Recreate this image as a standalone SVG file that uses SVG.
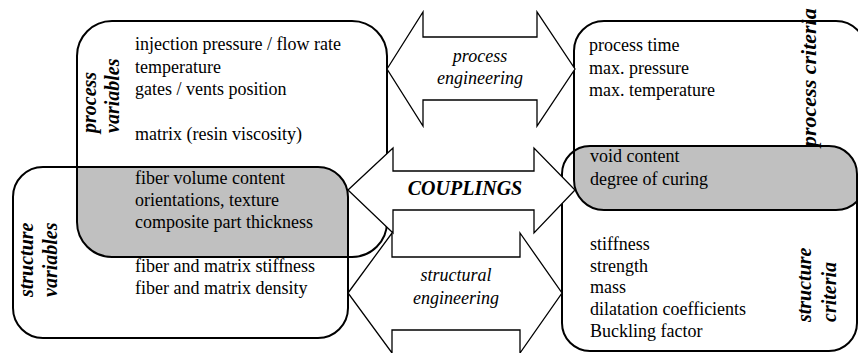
<svg xmlns="http://www.w3.org/2000/svg" width="858" height="353" viewBox="0 0 858 353">
<style>
.box{fill:none;stroke:#000;stroke-width:2}
.arr{fill:#fff;stroke:#000;stroke-width:1.3;stroke-linejoin:miter}
.t{font-family:"Liberation Serif","Times New Roman",serif;font-size:18px;fill:#000}
.lab{font-family:"Liberation Serif","Times New Roman",serif;font-size:20px;font-weight:bold;font-style:italic;fill:#000}
.it{font-family:"Liberation Serif","Times New Roman",serif;font-size:18px;font-style:italic;fill:#000;text-anchor:middle}
</style>
<defs>
<clipPath id="cpPV"><rect x="77" y="21" width="310" height="236" rx="35"/></clipPath>
<clipPath id="cpSC"><rect x="562" y="146" width="295" height="205" rx="28"/></clipPath>
</defs>
<rect width="858" height="353" fill="#fff"/>
<g id="overlaps">
<rect x="13" y="167" width="335" height="171" rx="30" fill="#c0c0c0" clip-path="url(#cpPV)"/>
<rect x="574" y="21" width="292" height="189" rx="30" fill="#c0c0c0" clip-path="url(#cpSC)"/>
</g>
<g id="process-variables">
<rect class="box" x="77" y="21" width="310" height="236" rx="35"/>
<text class="lab" transform="translate(96,133) rotate(-90)">process</text>
<text class="lab" transform="translate(119,133) rotate(-90)">variables</text>
<text class="t" x="135" y="50">injection pressure / flow rate</text>
<text class="t" x="135" y="73">temperature</text>
<text class="t" x="135" y="95">gates / vents position</text>
<text class="t" x="135" y="140">matrix (resin viscosity)</text>
</g>
<g id="structure-variables">
<rect class="box" x="13" y="167" width="335" height="171" rx="30"/>
<text class="lab" transform="translate(33,297) rotate(-90)">structure</text>
<text class="lab" transform="translate(57,297) rotate(-90)">variables</text>
<text class="t" x="135" y="184">fiber volume content</text>
<text class="t" x="135" y="206">orientations, texture</text>
<text class="t" x="135" y="228">composite part thickness</text>
<text class="t" x="135" y="272">fiber and matrix stiffness</text>
<text class="t" x="135" y="294">fiber and matrix density</text>
</g>
<g id="process-criteria">
<rect class="box" x="574" y="21" width="292" height="189" rx="30"/>
<text class="t" x="589" y="51">process time</text>
<text class="t" x="589" y="74">max. pressure</text>
<text class="t" x="589" y="96">max. temperature</text>
<text class="t" x="590" y="162">void content</text>
<text class="t" x="590" y="185">degree of curing</text>
</g>
<g id="structure-criteria">
<rect class="box" x="562" y="146" width="295" height="205" rx="28"/>
<text class="t" x="590" y="250">stiffness</text>
<text class="t" x="590" y="272">strength</text>
<text class="t" x="590" y="293">mass</text>
<text class="t" x="590" y="315">dilatation coefficients</text>
<text class="t" x="590" y="337">Buckling factor</text>
<text class="lab" transform="translate(811,322) rotate(-90)">structure</text>
<text class="lab" transform="translate(836,322) rotate(-90)">criteria</text>
</g>
<g id="connectors">
<g id="process-engineering">
<polygon class="arr" points="387,69 423,12 423,37 537,37 537,12 575,69 537,126 537,100 423,100 423,126"/>
<text class="it" x="480" y="62">process</text>
<text class="it" x="480" y="84">engineering</text>
</g>
<g id="couplings">
<polygon class="arr" points="348,190 393,148 393,171 534,171 534,148 575,190 534,233 534,210 393,210 393,233"/>
<text class="lab" x="465" y="195" text-anchor="middle">COUPLINGS</text>
</g>
<g id="structural-engineering">
<polygon class="arr" points="348,293 392,233 392,257 520,257 520,233 562,293 520,353 520,330 392,330 392,353"/>
<text class="it" x="456" y="281">structural</text>
<text class="it" x="456" y="304">engineering</text>
</g>
</g>
<text class="lab" style="font-size:22px" transform="translate(816,147) rotate(-90)">process criteria</text>
</svg>
